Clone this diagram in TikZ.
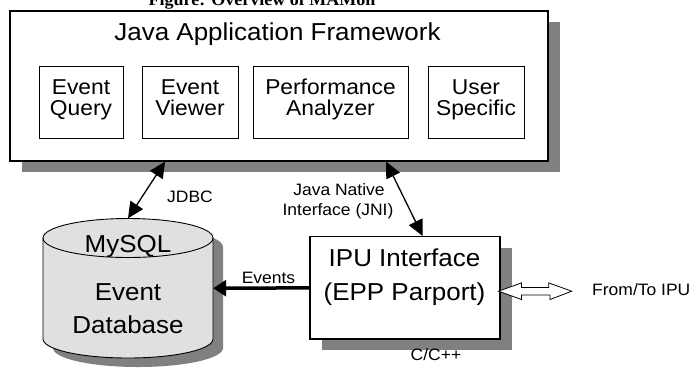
\documentclass[tikz,border=0pt]{standalone}
\usepackage{fontspec}
\setmainfont[FakeStretch=1.06]{Liberation Sans}
\newfontfamily\capfont[FakeStretch=1.06]{Liberation Serif}
\usetikzlibrary{arrows.meta,calc,shadows}
\definecolor{shadowgray}{RGB}{128,128,128}
\definecolor{dbfill}{RGB}{224,224,224}
\tikzset{
  boxshadow/.style={general shadow={shadow xshift=12pt, shadow yshift=-11pt, fill=shadowgray, draw=none}},
  outerbox/.style={draw, line width=1.2pt, fill=white, rectangle, inner sep=0pt},
  innerbox/.style={draw, line width=0.9pt, rectangle, inner sep=0pt, minimum height=72pt},
  innertext/.style={anchor=base, inner sep=0pt, font=\fontsize{21.5}{21.5}\selectfont},
  bigtext/.style={anchor=base, inner sep=0pt, font=\fontsize{24.5}{33}\selectfont},
  smalltext/.style={inner sep=0pt, font=\fontsize{16.5}{20}\selectfont},
  thinarrow/.style={line width=1.3pt, {Triangle[length=16pt,width=15pt]}-{Triangle[length=16pt,width=15pt]}},
  thickarrow/.style={line width=3.5pt, -{Triangle[length=13pt,width=16pt]}},
}
\begin{document}
\begin{tikzpicture}[x=1pt,y=-1pt]
\useasboundingbox (0,0) rectangle (695,368);
\fill[white] (0,0) rectangle (695,368);

% caption (clipped at top)
\node[anchor=base, inner sep=0pt, font=\capfont\bfseries\fontsize{17}{17}\selectfont] (cap) at (262,5) {Figure: Overview of MAMon};

% framework
\node[outerbox, boxshadow, minimum width=538pt, minimum height=150pt] (fw) at (279,86) {};
\node[bigtext] (title) at (277.5,40) {Java Application Framework};
\node[innerbox, minimum width=84pt] (eq) at (81,102) {};
\node[innerbox, minimum width=96pt] (ev) at (190,102) {};
\node[innerbox, minimum width=155pt] (pa) at (330.5,102) {};
\node[innerbox, minimum width=96pt] (us) at (476,102) {};
\node[innertext] (eq1) at (81,94) {Event};
\node[innertext] (eq2) at (81,115.5) {Query};
\node[innertext] (ev1) at (190,94) {Event};
\node[innertext] (ev2) at (190,115.5) {Viewer};
\node[innertext] (pa1) at (330.5,94) {Performance};
\node[innertext] (pa2) at (330.5,115.5) {Analyzer};
\node[innertext] (us1) at (476,94) {User};
\node[innertext] (us2) at (476,115.5) {Specific};

% database cylinder
\begin{scope}[shift={(10,9)}]
\fill[shadowgray] (43,238) -- (43,339) .. controls (43,349.5) and (81.05,358) .. (128,358)
  .. controls (174.95,358) and (213,349.5) .. (213,339) -- (213,238)
  .. controls (213,227.23) and (174.95,218.5) .. (128,218.5)
  .. controls (81.05,218.5) and (43,227.23) .. (43,238) -- cycle;
\end{scope}
\draw[line width=0.9pt, fill=dbfill] (43,238) -- (43,339) .. controls (43,349.5) and (81.05,358) .. (128,358)
  .. controls (174.95,358) and (213,349.5) .. (213,339) -- (213,238)
  .. controls (213,227.23) and (174.95,218.5) .. (128,218.5)
  .. controls (81.05,218.5) and (43,227.23) .. (43,238) -- cycle;
\draw[line width=0.9pt] (43,238) .. controls (43,248.77) and (81.05,257.5) .. (128,257.5)
  .. controls (174.95,257.5) and (213,248.77) .. (213,238);
\node[minimum width=170pt, minimum height=139.5pt, inner sep=0pt] (db) at (128,288.25) {};
\node[bigtext] (mysql) at (128,252) {MySQL};
\node[bigtext] (evt) at (128,300) {Event};
\node[bigtext] (dbt) at (128,333.3) {Database};

% IPU interface
\node[outerbox, boxshadow, minimum width=190pt, minimum height=102.3pt] (ipu) at (405,287.85) {};
\node[bigtext] (ipu1) at (404.5,266.7) {IPU Interface};
\node[bigtext] (ipu2) at (404.5,300) {(EPP Parport)};

% connectors
\draw[thinarrow] ($(fw.south west)+(155.7,0)$) -- (db.north);
\node[smalltext, anchor=base west] (jdbc) at (167,202.7) {JDBC};
\draw[thinarrow] ($(fw.south west)+(376.7,0)$) -- ($(ipu.north west)+(113.3,0)$);
\node[smalltext, anchor=base] (jni1) at (339,195) {Java Native};
\node[smalltext, anchor=base] (jni2) at (338,215) {Interface (JNI)};
\draw[thickarrow] (ipu.west) -- (db.east);
\node[smalltext, anchor=base] (evlab) at (268.5,283) {Events};

\coordinate (ioL) at (498.5,291.2);
\coordinate (ioR) at (571.7,291.2);
\draw[line width=0.8pt, fill=white, line join=miter] (ioL) -- ++(23,-8.3) -- ++(0,4.5) -- ++(27.2,0) -- ++(0,-4.5)
  -- (ioR) -- ++(-21.7,8.3) -- ++(0,-4.5) -- ++(-28.5,0) -- ++(0,4.5) -- cycle;
\node[smalltext, anchor=base west] (io) at (592,295) {From/To IPU};
\node[smalltext, anchor=base] (cc) at (436,360) {C/C++};
\end{tikzpicture}
\end{document}
